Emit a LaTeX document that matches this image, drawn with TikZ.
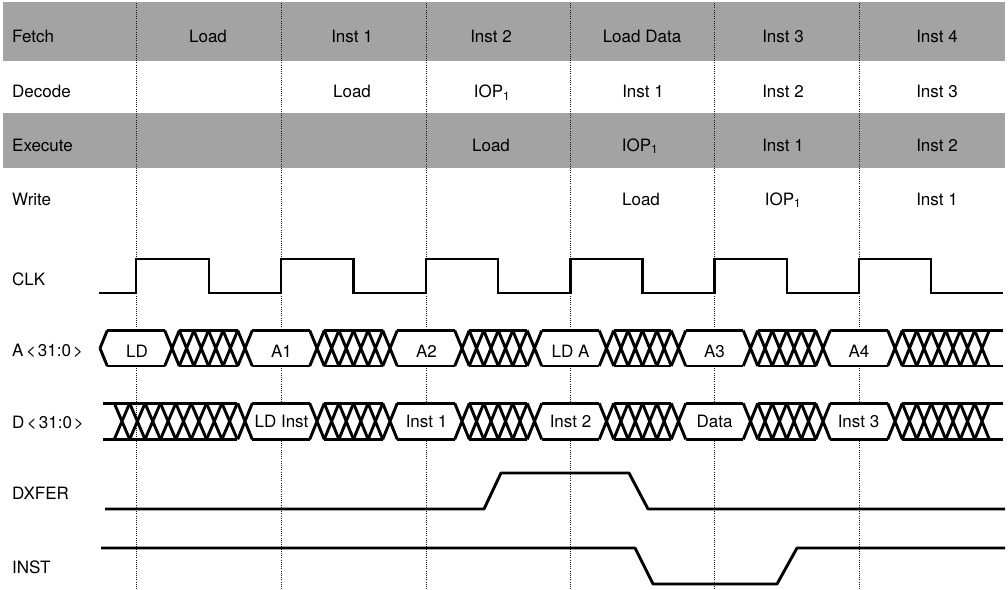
\documentclass[tikz,border=0pt]{standalone}
\usepackage{fontspec}
\setmainfont{TeX Gyre Heros}
\newcommand\busXing[4]{% c, h, top, bottom
  \draw[bus] ({#1-#2},#3) -- ({#1+#2},#4) ({#1-#2},#4) -- ({#1+#2},#3);}
\newcommand\busHatch[5]{% c1, c2, n, top, bottom
  \pgfmathsetmacro\hw{(#2-#1)/#3}%
  \pgfmathsetmacro\hh{\hw/2}%
  \pgfmathtruncatemacro\nm{#3-1}%
  \draw[bus] ({#1+\hh},#4) -- ({#2-\hh},#4) ({#1+\hh},#5) -- ({#2-\hh},#5);%
  \foreach \k in {1,...,\nm}{%
    \draw[bus] ({#1+\k*\hw-\hh},#4) -- ({#1+\k*\hw+\hh},#5)
               ({#1+\k*\hw-\hh},#5) -- ({#1+\k*\hw+\hh},#4);}%
}
\newcommand\busWin[5]{% c1, c2, top, bottom, h
  \fill[white] (#1,{(#3+#4)/2}) -- ({#1+#5},#3) -- ({#2-#5},#3) -- (#2,{(#3+#4)/2})
     -- ({#2-#5},#4) -- ({#1+#5},#4) -- cycle;
  \draw[bus] ({#1+#5},#3) -- ({#2-#5},#3) ({#1+#5},#4) -- ({#2-#5},#4);}
\begin{document}
\begin{tikzpicture}[x=1pt,y=-1pt,
  band/.style={fill=black!36,draw=none},
  lbl/.style={anchor=base west,inner sep=0pt,font=\fontsize{17}{20}\selectfont},
  txt/.style={anchor=base,inner sep=0pt,font=\fontsize{17}{20}\selectfont},
  gridline/.style={line width=1pt,dash pattern=on 1pt off 1.2pt,black!90},
  wave/.style={line width=2.9pt,line join=miter,line cap=butt},
  bus/.style={line width=2.9pt,line join=round,line cap=butt}]
\useasboundingbox (0,0) rectangle (1008,589);
% shaded rows
\fill[band] (3,2) rectangle (1005,61);
\fill[band] (3,113) rectangle (1005,168);
% dotted cycle lines
\foreach \x in {136,281,426,570.5,714.5,859}
  \draw[gridline] (\x,3) -- (\x,589);
% row labels
\node[lbl] (lfetch) at (12,42) {Fetch};
\node[lbl] (ldecode) at (12,97.5) {Decode};
\node[lbl] (lexec) at (12,151) {Execute};
\node[lbl] (lwrite) at (12,205) {Write};
\node[lbl] (lclk) at (12,285.5) {CLK};
\node[lbl] (la) at (12,356.5) {A\hspace{2.5pt}<\hspace{2pt}31:0\hspace{2pt}>};
\node[lbl] (ld) at (12,428) {D\hspace{2.5pt}<\hspace{2pt}31:0\hspace{2pt}>};
\node[lbl] (ldx) at (12,499.5) {DXFER};
\node[lbl] (linst) at (12,573) {INST};
% pipeline table
\node[txt] (f1) at (208,42) {Load};
\node[txt] (f2) at (352,42) {Inst 1};
\node[txt] (f3) at (491,42) {Inst 2};
\node[txt] (f4) at (642,42) {Load Data};
\node[txt] (f5) at (783,42) {Inst 3};
\node[txt] (f6) at (937,42) {Inst 4};
\node[txt] (d2) at (352,97.5) {Load};
\node[txt] (d3) at (492,97.5) {IOP\textsubscript{1}};
\node[txt] (d4) at (643,97.5) {Inst 1};
\node[txt] (d5) at (783,97.5) {Inst 2};
\node[txt] (d6) at (937,97.5) {Inst 3};
\node[txt] (e3) at (491,151) {Load};
\node[txt] (e4) at (640,151) {IOP\textsubscript{1}};
\node[txt] (e5) at (783,151) {Inst 1};
\node[txt] (e6) at (937,151) {Inst 2};
\node[txt] (w4) at (641,205) {Load};
\node[txt] (w5) at (783,205) {IOP\textsubscript{1}};
\node[txt] (w6) at (937,205) {Inst 1};
% CLK
\draw[wave] (99,293) -- (136,293) -- (136,259) -- (209,259) -- (209,293)
  -- (281,293) -- (281,259) -- (353.5,259) -- (353.5,293)
  -- (426,293) -- (426,259) -- (498,259) -- (498,293)
  -- (570.5,293) -- (570.5,259) -- (642.5,259) -- (642.5,293)
  -- (714.5,293) -- (714.5,259) -- (787,259) -- (787,293)
  -- (859,293) -- (859,259) -- (931,259) -- (931,293) -- (1003,293);
% A bus
\def\AT{330.5}\def\AB{366}
\busWin{100}{172}{\AT}{\AB}{7.25}
\draw[bus] (100,{(\AT+\AB)/2}) -- (107.25,\AT) (100,{(\AT+\AB)/2}) -- (107.25,\AB);
\busWin{245}{317}{\AT}{\AB}{7.25}
\busWin{390}{462}{\AT}{\AB}{7.25}
\busWin{534.5}{606.5}{\AT}{\AB}{7.25}
\busWin{678.5}{750.5}{\AT}{\AB}{7.25}
\busWin{823}{895}{\AT}{\AB}{7.25}
\busHatch{172}{245}{5}{\AT}{\AB}
\busHatch{317}{390}{5}{\AT}{\AB}
\busHatch{462}{534.5}{5}{\AT}{\AB}
\busHatch{606.5}{678.5}{5}{\AT}{\AB}
\busHatch{750.5}{823}{5}{\AT}{\AB}
\busHatch{895}{996.5}{7}{\AT}{\AB}
\draw[bus] (985,\AT) -- (1003,\AT) (985,\AB) -- (1003,\AB);
\foreach \c in {172,245,317,390,462,534.5,606.5,678.5,750.5,823,895}
  \busXing{\c}{7.25}{\AT}{\AB};
\node[txt] (aLD) at (137,357) {LD};
\node[txt] (aA1) at (281.5,357) {A1};
\node[txt] (aA2) at (426.5,357) {A2};
\node[txt] (aLDA) at (570.5,357) {LD A};
\node[txt] (aA3) at (714.5,357) {A3};
\node[txt] (aA4) at (859,357) {A4};
% D bus
\def\DT{403.3}\def\DB{439.3}
\busWin{245}{317}{\DT}{\DB}{7.25}
\busWin{390}{462}{\DT}{\DB}{7.25}
\busWin{534.5}{606.5}{\DT}{\DB}{7.25}
\busWin{678.5}{750.5}{\DT}{\DB}{7.25}
\busWin{823}{895}{\DT}{\DB}{7.25}
\busHatch{106.6}{245}{9}{\DT}{\DB}
\draw[bus] (103,\DT) -- (116,\DT) (103,\DB) -- (116,\DB);
\busHatch{317}{390}{5}{\DT}{\DB}
\busHatch{462}{534.5}{5}{\DT}{\DB}
\busHatch{606.5}{678.5}{5}{\DT}{\DB}
\busHatch{750.5}{823}{5}{\DT}{\DB}
\busHatch{895}{996.5}{7}{\DT}{\DB}
\draw[bus] (985,\DT) -- (1003,\DT) (985,\DB) -- (1003,\DB);
\foreach \c in {245,317,390,462,534.5,606.5,678.5,750.5,823,895}
  \busXing{\c}{7.25}{\DT}{\DB};
\node[txt] (dLDI) at (281.5,427.5) {LD Inst};
\node[txt] (dI1) at (426.5,427.5) {Inst 1};
\node[txt] (dI2) at (570.5,427.5) {Inst 2};
\node[txt] (dData) at (714.5,427.5) {Data};
\node[txt] (dI3) at (858.5,427.5) {Inst 3};
% DXFER and INST
\draw[wave,line join=round] (105,509) -- (484,509) -- (501,473) -- (629,473) -- (648,509) -- (1005,509);
\draw[wave,line join=round] (101,548) -- (635,548) -- (653,584) -- (777,584) -- (797,548) -- (1005,548);
\end{tikzpicture}
\end{document}
